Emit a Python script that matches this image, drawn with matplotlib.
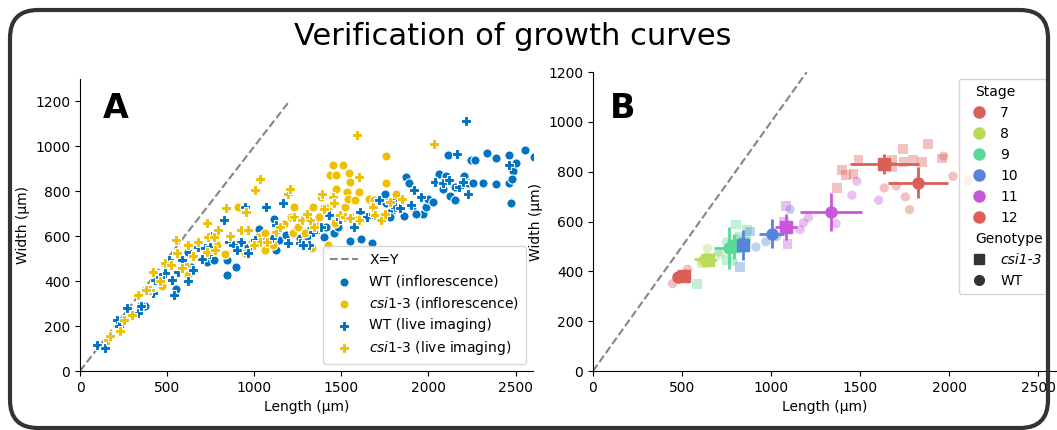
import numpy as np
import matplotlib.pyplot as plt
import seaborn as sns
from matplotlib.lines import Line2D
from matplotlib.patches import FancyBboxPatch

# Цвета (палитра JCO)
BLUE = '#0073C2'
YELLOW = '#EFC000'
GREY = '#868686'

# ---- Панель A: длина / ширина ----
wt_inf_len = [371, 351, 549, 622, 628, 638, 727, 767, 842, 842, 896, 925, 965, 1025, 1064, 1084,
              1114, 1124, 1143, 1183, 1223, 1322, 1361, 1401, 1411, 1457, 1550, 1615, 1675, 1748,
              1758, 1817, 1861, 1871, 1887, 1907, 1966, 1986, 1996, 2061, 2101, 2085, 2125, 2154,
              2110, 2204, 2229, 2253, 2243, 2269, 2313, 2338, 2386, 2386, 2463, 2463, 2471, 2485,
              2505, 2554, 2606, 2481, 2026, 1785, 1778,
              598, 690, 760, 1040, 1090, 1260, 1300, 1480, 1800, 1930, 2150]
wt_inf_wid = [291, 295, 366, 532, 436, 465, 487, 495, 495, 428, 462, 576, 554, 631, 583, 561,
              675, 539, 583, 606, 617, 628, 628, 598, 643, 616, 580, 586, 569, 786,
              750, 790, 690, 864, 835, 731, 697, 731, 768, 879, 868, 812, 778, 761,
              963, 868, 835, 839, 941, 938, 839, 972, 950, 832, 960, 839, 750, 889,
              928, 985, 953, 857, 753, 709, 687,
              480, 560, 545, 600, 590, 590, 600, 640, 760, 700, 820]

wt_live_len = [99, 143, 212, 222, 272, 335, 351, 420, 430, 490, 509, 529, 539, 588, 618, 648,
               678, 717, 747, 767, 826, 856, 925, 945, 965, 1005, 1070, 1124, 1163, 1193, 1262,
               1312, 1381, 1431, 1490, 1570, 1609, 1649, 1718, 1808, 1916, 1956, 2038, 2083,
               2164, 2174, 2214, 2224, 2461, 2115, 1837,
               460, 560, 700, 740, 880, 900, 1100, 1280, 1340, 1680, 1900, 2200]
wt_live_wid = [114, 103, 229, 199, 281, 259, 288, 347, 406, 436, 495, 406, 340, 495, 399, 450,
               554, 547, 554, 613, 672, 576, 576, 731, 524, 583, 731, 650, 746, 569, 569,
               561, 643, 694, 679, 643, 709, 687, 761, 731, 805, 775, 842, 835,
               964, 820, 1111, 790, 916, 849, 724,
               420, 440, 500, 520, 560, 540, 590, 560, 620, 700, 740, 840]

csi_inf_len = [470, 618, 688, 787, 906, 945, 985, 1021, 1064, 1173, 1213, 1229, 1223, 1292, 1292,
               1332, 1338, 1401, 1421, 1431, 1396, 1437, 1451, 1470, 1470, 1464, 1510, 1520, 1530,
               1540, 1544, 1550, 1600, 1659, 1754, 1754, 1813, 1688, 1385, 1064, 1352, 1371,
               600, 830, 1110, 1250, 1300, 1450, 1580, 1620]
csi_inf_wid = [380, 428, 554, 561, 731, 524, 576, 595, 539, 653, 687, 731, 613, 613, 694,
               547, 731, 731, 561, 731, 783, 871, 916, 871, 812, 657, 916, 731, 798,
               768, 883, 842, 798, 768, 835, 957, 790, 761, 775, 613, 650, 687,
               470, 520, 560, 640, 680, 750, 760, 700]

csi_live_len = [163, 172, 232, 252, 301, 335, 420, 400, 460, 490, 549, 555, 588, 648, 678, 727,
                727, 737, 767, 792, 777, 836, 925, 955, 965, 1005, 1035, 1035, 1074, 1124, 1193,
                1207, 1227, 1272, 1322, 1342, 1391, 1451, 1460, 1490, 1520, 1589, 1600, 1600,
                1679, 1694, 1728, 1778, 1847, 2031, 1560,
                380, 520, 620, 860, 1000, 1150, 1300, 1400, 1550, 1750]
csi_live_wid = [140, 155, 177, 229, 251, 340, 443, 362, 399, 480, 583, 524, 458, 510, 576, 532,
                657, 598, 598, 628, 539, 724, 628, 709, 628, 805, 857, 576, 576, 620, 790,
                812, 687, 672, 672, 643, 790, 775, 746, 694, 687, 1053, 672, 864,
                731, 694, 672, 753, 768, 1009, 687,
                360, 470, 560, 600, 560, 640, 700, 720, 680, 700]

# ---- Панель B: стадии ----
stages = [7, 8, 9, 10, 11, 12]

# отдельные измерения (бледные точки)
wt_pts_stage = [7, 7, 7, 8, 8, 8, 9, 9, 9, 9, 10, 10, 10, 10,
                11, 11, 11, 11, 11, 11, 11, 12, 12, 12, 12, 12, 12, 12]
wt_pts_len = [446, 531, 516, 643, 610, 713, 703, 750, 788, 806, 915, 971, 1107, 1030,
              1163, 1182, 1210, 1365, 1454, 1482, 1604, 1636, 1703, 1754, 1778, 1969, 2022, 2106]
wt_pts_wid = [351, 409, 391, 492, 438, 465, 478, 519, 441, 532, 498, 519, 649, 540,
              568, 595, 616, 592, 706, 762, 686, 735, 743, 699, 648, 863, 782, 763]

csi_pts_stage = [7, 7, 8, 8, 8, 9, 9, 9, 9, 9, 9, 10, 10, 10, 11, 11, 11,
                 12, 12, 12, 12, 12, 12, 12, 12, 12, 12, 12, 12, 12]
csi_pts_len = [500, 525, 610, 660, 640, 803, 863, 750, 585, 825, 860, 825, 850, 880, 1084, 1092, 1075,
               1369, 1397, 1422, 1463, 1491, 1679, 1679, 1744, 1740, 1797, 1847, 1881, 1960]
csi_pts_wid = [385, 375, 432, 455, 440, 588, 568, 445, 351, 539, 530, 416, 520, 560, 661, 509, 600,
               735, 808, 786, 792, 846, 846, 819, 839, 893, 846, 839, 910, 853]

# средние значения и разброс по стадиям
wt_mean_len = [478, 628, 765, 1003, 1337, 1825]
wt_mean_wid = [378, 448, 494, 552, 639, 756]
wt_err_len = [25, 60, 85, 70, 176, 168]
wt_err_wid = [20, 20, 85, 57, 75, 62]

csi_mean_len = [510, 647, 790, 844, 1084, 1636]
csi_mean_wid = [381, 445, 500, 505, 579, 830]
csi_err_len = [30, 50, 40, 15, 61, 194]
csi_err_wid = [20, 25, 50, 60, 53, 40]

stage_colors = sns.color_palette('hls', 5)
stage_colors = stage_colors + [stage_colors[0]]
col_of = dict(zip(stages, stage_colors))

plt.rcParams['font.family'] = 'DejaVu Sans'
plt.rcParams['font.size'] = 10

fig = plt.figure(figsize=(10.57, 4.3), dpi=100)

# рамка вокруг всей картинки
frame = FancyBboxPatch((0.1, 0.02), 10.38, 4.18, boxstyle='round,pad=0,rounding_size=0.28',
                       transform=fig.dpi_scale_trans, fill=False, edgecolor='#333333', linewidth=3)
fig.patches.append(frame)

fig.text(0.485, 0.915, 'Verification of growth curves', ha='center', va='center', fontsize=22)

# ---------------- A ----------------
axA = fig.add_axes([0.0757, 0.1372, 0.4286, 0.679])
axA.plot([0, 1200], [0, 1200], ls='--', color=GREY, lw=1.5, label='X=Y')
axA.scatter(wt_inf_len, wt_inf_wid, s=44, marker='o', color=BLUE, edgecolor='white', linewidth=0.8,
            label='WT (inflorescence)', zorder=3)
axA.scatter(csi_inf_len, csi_inf_wid, s=44, marker='o', color=YELLOW, edgecolor='white', linewidth=0.8,
            label=r'$\mathit{csi1}$‐$\mathit{3}$ (inflorescence)', zorder=3)
axA.scatter(wt_live_len, wt_live_wid, s=50, marker='P', color=BLUE, edgecolor='white', linewidth=0.8,
            label='WT (live imaging)', zorder=3)
axA.scatter(csi_live_len, csi_live_wid, s=50, marker='P', color=YELLOW, edgecolor='white', linewidth=0.8,
            label=r'$\mathit{csi1}$‐$\mathit{3}$ (live imaging)', zorder=3)
axA.set_xlim(0, 2600)
axA.set_ylim(0, 1300)
axA.set_xticks([0, 500, 1000, 1500, 2000, 2500])
axA.set_yticks([0, 200, 400, 600, 800, 1000, 1200])
axA.set_xlabel('Length (µm)')
axA.set_ylabel('Width (µm)')
axA.spines['top'].set_visible(False)
axA.spines['right'].set_visible(False)
axA.legend(loc='lower right', fontsize=10, handlelength=2.0, borderpad=0.5)
axA.text(0.05, 0.955, 'A', transform=axA.transAxes, fontsize=24, fontweight='bold', ha='left', va='top')

# ---------------- B ----------------
axB = fig.add_axes([0.561, 0.1372, 0.438, 0.695])
axB.plot([0, 1200], [0, 1200], ls='--', color=GREY, lw=1.5)

wt_c = [col_of[s] for s in wt_pts_stage]
csi_c = [col_of[s] for s in csi_pts_stage]
axB.scatter(wt_pts_len, wt_pts_wid, s=45, marker='o', c=wt_c, alpha=0.38, linewidth=0)
axB.scatter(csi_pts_len, csi_pts_wid, s=50, marker='s', c=csi_c, alpha=0.38, linewidth=0)

for i, st in enumerate(stages):
    c = col_of[st]
    axB.errorbar(wt_mean_len[i], wt_mean_wid[i], xerr=wt_err_len[i], yerr=wt_err_wid[i],
                 fmt='o', color=c, ms=8, elinewidth=2, capsize=0, zorder=4)
    axB.errorbar(csi_mean_len[i], csi_mean_wid[i], xerr=csi_err_len[i], yerr=csi_err_wid[i],
                 fmt='s', color=c, ms=8, elinewidth=2, capsize=0, zorder=4)

axB.set_xlim(0, 2600)
axB.set_ylim(0, 1200)
axB.set_xticks([0, 500, 1000, 1500, 2000, 2500])
axB.set_yticks([0, 200, 400, 600, 800, 1000, 1200])
axB.set_xlabel('Length (µm)')
axB.set_ylabel('Width (µm)')
axB.spines['top'].set_visible(False)
axB.spines['right'].set_visible(False)
axB.text(0.037, 0.933, 'B', transform=axB.transAxes, fontsize=24, fontweight='bold', ha='left', va='top')

# легенда в стиле seaborn: строки-подзаголовки пустые, текст ставим сверху отдельно
blank = Line2D([], [], linestyle='none', marker=None)
handles = [blank]
labels = [' ']
for st in stages:
    handles.append(Line2D([], [], linestyle='none', marker='o', color=col_of[st], ms=8))
    labels.append(str(st))
handles += [blank,
            Line2D([], [], linestyle='none', marker='s', color='#333333', ms=7),
            Line2D([], [], linestyle='none', marker='o', color='#333333', ms=7)]
labels += [' ', 'csi1-3', 'WT']
legB = axB.legend(handles, labels, loc='upper right', bbox_to_anchor=(0.998, 1.0), fontsize=10,
                  handlelength=2.0, handletextpad=0.55, borderpad=0.45)
legB.get_texts()[8].set_fontstyle('italic')

fig.canvas.draw()
rend = fig.canvas.get_renderer()
num_bb = legB.get_texts()[1].get_window_extent(rend)
for idx, name in [(0, 'Stage'), (7, 'Genotype')]:
    bb = legB.get_texts()[idx].get_window_extent(rend)
    fig.text(num_bb.x0 - 25, (bb.y0 + bb.y1) / 2, name, transform=None,
             ha='left', va='center', fontsize=10)

fig.savefig('out.png', dpi=100)
